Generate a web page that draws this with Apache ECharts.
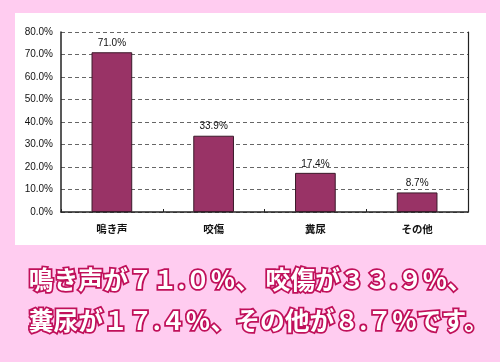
<!DOCTYPE html>
<html>
<head>
<meta charset="utf-8">
<script src="https://cdn.jsdelivr.net/npm/echarts@6/dist/echarts.min.js"></script>
<style>
html,body{margin:0;padding:0;background:#ffccf0;}
#chart{width:500px;height:362px;}
</style>
</head>
<body>
<div id="chart"></div>
<script>
const categories = ['鳴き声', '咬傷', '糞尿', 'その他'];
const values = [71.0, 33.9, 17.4, 8.7];
const yTicks = [0, 10, 20, 30, 40, 50, 60, 70, 80];
const captionLines = ['鳴き声が７１.０％、 咬傷が３３.９％、', '糞尿が１７.４％、その他が８.７％です。'];

const chart = echarts.init(document.getElementById('chart'), null, {renderer: 'canvas'});
const yMin = yTicks[0], yMax = yTicks[yTicks.length - 1], yStep = yTicks[1] - yTicks[0];

chart.setOption({
  backgroundColor: '#ffccf0',
  animation: false,
  grid: {left: 61, top: 32, right: 32, bottom: 150, containLabel: false},
  graphic: [
    {type: 'rect', z: -10, shape: {x: 15, y: 13, width: 471, height: 232}, style: {fill: '#ffffff'}},
    {type: 'text', left: 27, top: 265, z: 10, style: {text: captionLines[0], fill: '#ffffff', stroke: '#c0105a', lineWidth: 3.5, font: 'bold 24.8px "Noto Sans CJK JP"'}},
    {type: 'text', left: 27, top: 306, z: 10, style: {text: captionLines[1], fill: '#ffffff', stroke: '#c0105a', lineWidth: 3.5, font: 'bold 24.8px "Noto Sans CJK JP"'}}
  ],
  xAxis: {
    type: 'category',
    data: categories,
    axisLine: {show: true, lineStyle: {color: '#222', width: 1.5}},
    axisTick: {show: true, inside: true, length: 3, lineStyle: {color: '#222'}},
    axisLabel: {color: '#111', fontSize: 10.5, fontFamily: '"Noto Sans CJK JP"', fontWeight: 'bold', margin: 12}
  },
  yAxis: [{
    type: 'value',
    min: yMin, max: yMax, interval: yStep,
    axisLine: {show: true, lineStyle: {color: '#222', width: 1.5}},
    axisTick: {show: false},
    axisLabel: {color: '#111', fontSize: 10, fontFamily: '"Liberation Sans Narrow", "Liberation Sans", Arial', margin: 8,
      formatter: v => v.toFixed(1) + '%'},
    splitLine: {show: true, lineStyle: {color: '#666', type: [4, 3], width: 1}}
  }, {
    type: 'value', position: 'right',
    min: yMin, max: yMax, interval: yStep,
    axisLine: {show: true, lineStyle: {color: '#222', width: 1.2}},
    axisTick: {show: false}, axisLabel: {show: false}, splitLine: {show: false}
  }],
  series: [{
    type: 'bar',
    data: values,
    barWidth: '40%',
    itemStyle: {color: '#993366', borderColor: '#3a1a2a', borderWidth: 1},
    label: {show: true, position: 'top', distance: 4, color: '#111', fontSize: 10,
      fontFamily: '"Liberation Sans Narrow", "Liberation Sans", Arial',
      formatter: p => p.value.toFixed(1) + '%'}
  }]
});
</script>
</body>
</html>
